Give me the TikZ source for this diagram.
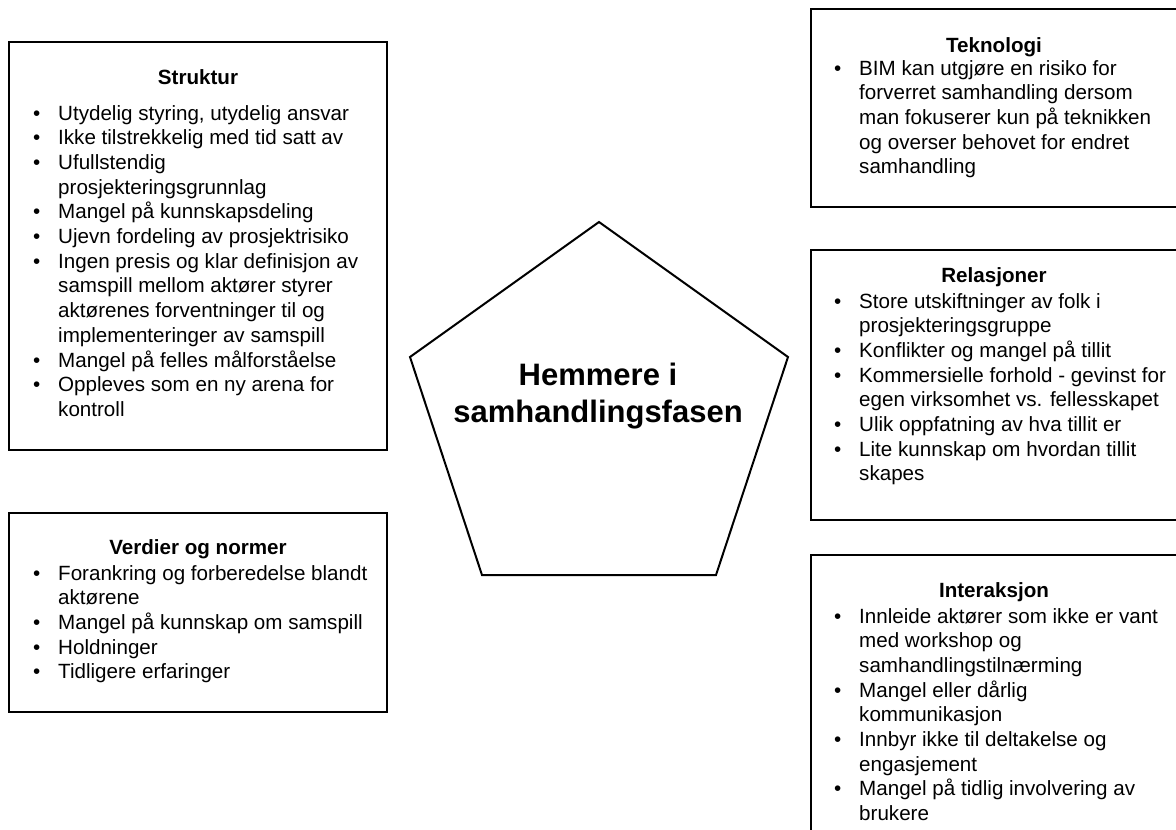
\documentclass[tikz,border=0pt]{standalone}
\usepackage{fontspec}
\setmainfont{Liberation Sans}
\usepackage{array}
\begin{document}
\begin{tikzpicture}[x=1pt,y=-1pt,
  boxline/.style={draw=black, line width=2.4pt},
  hubline/.style={draw=black, line width=2pt, line join=miter},
  boxtitle/.style={font=\fontsize{20.6}{24.7}\selectfont\bfseries, inner sep=0pt, anchor=base},
  boxlist/.style={font=\fontsize{20.6}{24.7}\selectfont, inner sep=0pt, anchor=base west},
  hubtext/.style={font=\fontsize{31}{37}\selectfont\bfseries, inner sep=0pt, anchor=base},
]
\useasboundingbox (0,0) rectangle (1176,830);

% ---- central pentagon ----
\coordinate (p-top) at (599,222);
\coordinate (p-right) at (788,357);
\coordinate (p-br) at (716,575);
\coordinate (p-bl) at (482,575);
\coordinate (p-left) at (410,357);
\draw[hubline] (p-top) -- (p-right) -- (p-br) -- (p-bl) -- (p-left) -- cycle;
\node[hubtext] (hub) at (598,385)
  {\begin{tabular}[t]{@{}c@{}}Hemmere i\\samhandlingsfasen\end{tabular}};

% ---- Struktur ----
\coordinate (s-nw) at (9,42);
\coordinate (s-se) at (387,450);
\draw[boxline] (s-nw) rectangle (s-se);
\node[boxtitle] (s-title) at (198,84) {Struktur};
\node[boxlist] (s-list) at (33,120) {\begin{tabular}[t]{@{}p{25pt}@{}l@{}}
\textbullet & Utydelig styring, utydelig ansvar\\
\textbullet & Ikke tilstrekkelig med tid satt av\\
\textbullet & Ufullstendig\\
 & prosjekteringsgrunnlag\\
\textbullet & Mangel på kunnskapsdeling\\
\textbullet & Ujevn fordeling av prosjektrisiko\\
\textbullet & Ingen presis og klar definisjon av\\
 & samspill mellom aktører styrer\\
 & aktørenes forventninger til og\\
 & implementeringer av samspill\\
\textbullet & Mangel på felles målforståelse\\
\textbullet & Oppleves som en ny arena for\\
 & kontroll
\end{tabular}};

% ---- Verdier og normer ----
\coordinate (v-nw) at (9,513);
\coordinate (v-se) at (387,712);
\draw[boxline] (v-nw) rectangle (v-se);
\node[boxtitle] (v-title) at (198,554) {Verdier og normer};
\node[boxlist] (v-list) at (33,580) {\begin{tabular}[t]{@{}p{25pt}@{}l@{}}
\textbullet & Forankring og forberedelse blandt\\
 & aktørene\\
\textbullet & Mangel på kunnskap om samspill\\
\textbullet & Holdninger\\
\textbullet & Tidligere erfaringer
\end{tabular}};

% ---- Teknologi ----
\coordinate (t-nw) at (811,9);
\coordinate (t-se) at (1179,207);
\draw[boxline] (t-nw) rectangle (t-se);
\node[boxtitle] (t-title) at (994,52) {Teknologi};
\node[boxlist] (t-list) at (834,75) {\begin{tabular}[t]{@{}p{25pt}@{}l@{}}
\textbullet & BIM kan utgjøre en risiko for\\
 & forverret samhandling dersom\\
 & man fokuserer kun på teknikken\\
 & og overser behovet for endret\\
 & samhandling
\end{tabular}};

% ---- Relasjoner ----
\coordinate (r-nw) at (811,250);
\coordinate (r-se) at (1179,520);
\draw[boxline] (r-nw) rectangle (r-se);
\node[boxtitle] (r-title) at (994,282) {Relasjoner};
\node[boxlist] (r-list) at (834,308) {\begin{tabular}[t]{@{}p{25pt}@{}l@{}}
\textbullet & Store utskiftninger av folk i\\
 & prosjekteringsgruppe\\
\textbullet & Konflikter og mangel på tillit\\
\textbullet & Kommersielle forhold - gevinst for\\
 & egen virksomhet vs. fellesskapet\\
\textbullet & Ulik oppfatning av hva tillit er\\
\textbullet & Lite kunnskap om hvordan tillit\\
 & skapes
\end{tabular}};

% ---- Interaksjon ----
\coordinate (i-nw) at (811,555);
\coordinate (i-se) at (1179,850);
\draw[boxline] (i-nw) rectangle (i-se);
\node[boxtitle] (i-title) at (994,597) {Interaksjon};
\node[boxlist] (i-list) at (834,623) {\begin{tabular}[t]{@{}p{25pt}@{}l@{}}
\textbullet & Innleide aktører som ikke er vant\\
 & med workshop og\\
 & samhandlingstilnærming\\
\textbullet & Mangel eller dårlig\\
 & kommunikasjon\\
\textbullet & Innbyr ikke til deltakelse og\\
 & engasjement\\
\textbullet & Mangel på tidlig involvering av\\
 & brukere
\end{tabular}};
\end{tikzpicture}
\end{document}
